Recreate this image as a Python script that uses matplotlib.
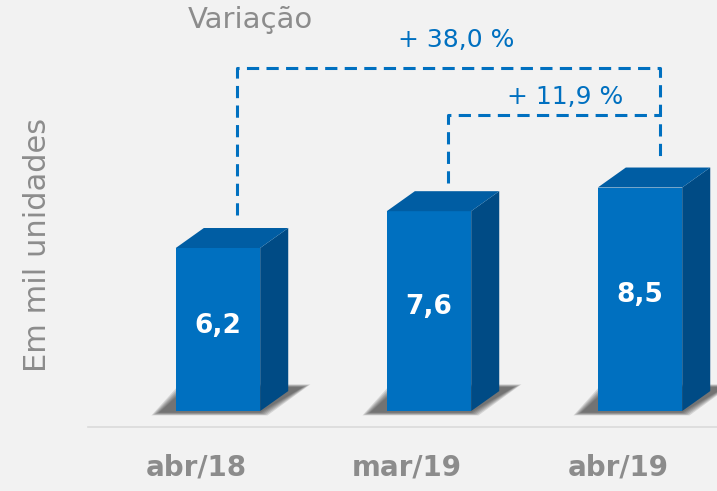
import matplotlib.pyplot as plt
from matplotlib.patches import Polygon

categories = ['abr/18', 'mar/19', 'abr/19']
values = [6.2, 7.6, 8.5]
value_labels = ['6,2', '7,6', '8,5']
var_labels = ['+ 38,0 %', '+ 11,9 %']

front_c = '#0070c0'
top_c = '#005da3'
side_c = '#004b85'
grey = '#8c8c8c'

fig = plt.figure(figsize=(7.17, 4.91), dpi=100)
fig.patch.set_facecolor('#f2f2f2')
ax = fig.add_axes([0, 0, 1, 1])
ax.set_facecolor('#f2f2f2')
ax.set_xlim(-1.033, 2.365)
ax.set_ylim(-3.04, 15.63)
ax.axis('off')

w = 0.4     # front face width
dx = 0.133  # depth in x
dy = 0.76   # depth in y

for i, v in enumerate(values):
    x0 = i - w / 2
    x1 = i + w / 2
    # soft shadow (footprint shifted left, blurred by layers)
    for k in range(6):
        s = 0.007 * (5 - k)
        ax.add_patch(Polygon([(x0 - 0.08 - s, -0.06 - s * 3), (x1 + s, -0.06 - s * 3),
                              (x1 + dx + 0.07 + s, dy + 0.15 + s * 3), (x0 + dx - 0.08 - s, dy + 0.15 + s * 3)],
                             closed=True, facecolor='#202020', edgecolor='none', alpha=0.14, zorder=1))
    ax.add_patch(Polygon([(x0, 0), (x1, 0), (x1, v), (x0, v)], closed=True,
                         facecolor=front_c, edgecolor='none', zorder=3))
    ax.add_patch(Polygon([(x1, 0), (x1 + dx, dy), (x1 + dx, v + dy), (x1, v)], closed=True,
                         facecolor=side_c, edgecolor='none', zorder=3))
    ax.add_patch(Polygon([(x0, v), (x1, v), (x1 + dx, v + dy), (x0 + dx, v + dy)], closed=True,
                         facecolor=top_c, edgecolor='none', zorder=3))
    ax.text(i, v * 0.52, value_labels[i], color='white', fontsize=19, fontweight='bold',
            ha='center', va='center', zorder=4)
    ax.text(i - 0.105, -2.13, categories[i], color=grey, fontsize=20, fontweight='bold',
            ha='center', va='center')

# baseline
ax.plot([-0.615, 2.365], [-0.61, -0.61], color='#dadada', lw=1.2, zorder=0)

# variation brackets
dash = dict(color=front_c, lw=2.2, dashes=(4, 2.4), zorder=2)
top1, top2 = 13.04, 11.25
xl, xm, xr = 0 + 0.09, 1 + 0.09, 2 + 0.094
ax.plot([xl, xl, xr, xr], [values[0] + dy + 0.5, top1, top1, values[2] + dy + 0.35], **dash)
ax.plot([xm, xm, xr], [values[1] + dy + 0.3, top2, top2], **dash)

ax.text(1.128, 14.1, var_labels[0], color=front_c, fontsize=18, ha='center', va='center')
ax.text(1.645, 11.94, var_labels[1], color=front_c, fontsize=18, ha='center', va='center')
ax.text(0.152, 14.87, 'Variação', color=grey, fontsize=21, ha='center', va='center')
ax.text(-0.853, 6.31, 'Em mil unidades', color=grey, fontsize=22, rotation=90,
        ha='center', va='center')

fig.savefig('out.png', dpi=100, facecolor=fig.get_facecolor())
